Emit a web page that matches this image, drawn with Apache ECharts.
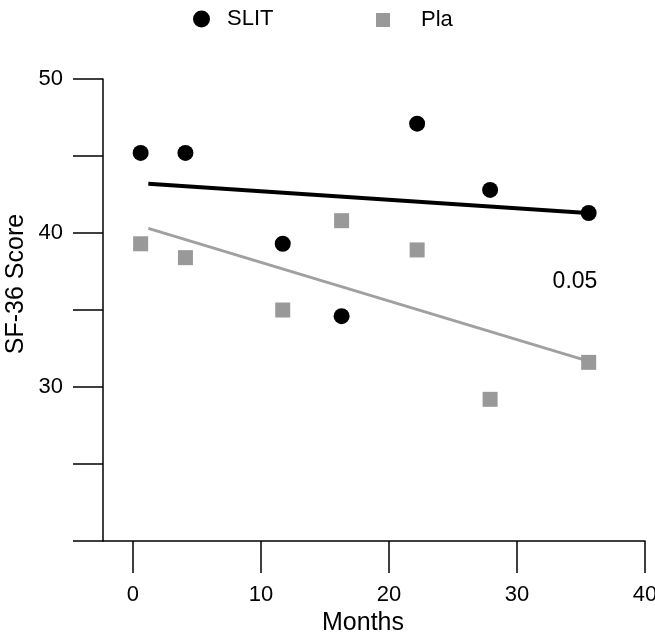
<!DOCTYPE html>
<html>
<head>
<meta charset="utf-8">
<script src="https://cdn.jsdelivr.net/npm/echarts@6/dist/echarts.min.js"></script>
<style>
    html, body {margin: 0; padding: 0; background: #fff;}
    #chart {width: 655px; height: 633px;}
</style>
</head>
<body>
<div id="chart"></div>
<script>
// months of each visit (same for both groups)
var months = [0.6, 4.1, 11.7, 16.3, 22.2, 27.9, 35.6];
// SF-36 score per visit
var slitScore = [45.2, 45.2, 39.3, 34.6, 47.1, 42.8, 41.3];
var plaScore = [39.3, 38.4, 35.0, 40.8, 38.9, 29.2, 31.6];
// fitted trend lines, start and end
var fitMonths = [1.2, 35.5];
var slitFit = [43.2, 41.3];
var plaFit = [40.3, 31.7];
// axis ticks / labels
var xTicks = [0, 10, 20, 30, 40];
var yTicks = [20, 25, 30, 35, 40, 45, 50];
var yLabels = [30, 40, 50];

var FONT = '"Liberation Sans", Arial, Helvetica, sans-serif';
var GREY = '#999999';

function pairs(xs, ys) {
    var res = [];
    for (var i = 0; i < xs.length; i++) {
        res.push([xs[i], ys[i]]);
    }
    return res;
}

var myChart = echarts.init(document.getElementById('chart'));

var option = {
    backgroundColor: '#fff',
    animation: false,
    textStyle: {fontFamily: FONT},
    grid: {left: 103, right: 10, top: 79, bottom: 92, outerBoundsMode: 'none', containLabel: false},
    legend: [
        {
            data: ['SLIT'],
            left: 188, top: 3,
            itemWidth: 17, itemHeight: 17,
            textStyle: {fontSize: 22, color: '#000', fontFamily: FONT, padding: [0, 0, 0, 12]}
        },
        {
            data: ['Pla'],
            left: 371, top: 4,
            itemWidth: 14, itemHeight: 14,
            textStyle: {fontSize: 22, color: '#000', fontFamily: FONT, padding: [0, 0, 0, 26]}
        }
    ],
    xAxis: {
        type: 'value',
        min: -2.34, max: 40,
        name: 'Months',
        nameLocation: 'middle',
        nameGap: 67,
        nameTextStyle: {fontSize: 25, color: '#000', fontFamily: FONT, padding: [0, 22, 0, 0]},
        splitLine: {show: false},
        axisLine: {onZero: false, lineStyle: {color: '#000', width: 1.5}},
        axisTick: {customValues: xTicks, length: 32, lineStyle: {color: '#000', width: 1.5}},
        axisLabel: {customValues: xTicks, margin: 43, fontSize: 22, color: '#000', fontFamily: FONT}
    },
    yAxis: {
        type: 'value',
        min: 20, max: 50,
        splitLine: {show: false},
        axisLine: {show: true, onZero: false, lineStyle: {color: '#000', width: 1.5}},
        axisTick: {customValues: yTicks, length: 30, lineStyle: {color: '#000', width: 1.5}},
        axisLabel: {customValues: yLabels, margin: 40, fontSize: 22, color: '#000', fontFamily: FONT, padding: [8, 0, 0, 0]}
    },
    graphic: [
        { // y axis title
            type: 'text',
            x: 16, y: 284,
            rotation: Math.PI / 2,
            style: {text: 'SF-36 Score', fontSize: 25, fontFamily: FONT, fill: '#000', align: 'center', verticalAlign: 'middle'}
        },
        { // p value
            type: 'text',
            x: 575, y: 282,
            style: {text: '0.05', fontSize: 23, fontFamily: FONT, fill: '#000', align: 'center', verticalAlign: 'middle'}
        }
    ],
    series: [
        {
            name: 'SLIT fit',
            type: 'line',
            data: pairs(fitMonths, slitFit),
            symbol: 'none',
            lineStyle: {color: '#000', width: 4},
            z: 2
        },
        {
            name: 'Pla fit',
            type: 'line',
            data: pairs(fitMonths, plaFit),
            symbol: 'none',
            lineStyle: {color: '#a0a0a0', width: 3},
            z: 2
        },
        {
            name: 'SLIT',
            type: 'scatter',
            data: pairs(months, slitScore),
            symbol: 'circle',
            symbolSize: 16,
            itemStyle: {color: '#000', opacity: 1},
            z: 3
        },
        {
            name: 'Pla',
            type: 'scatter',
            data: pairs(months, plaScore),
            symbol: 'rect',
            symbolSize: 15,
            itemStyle: {color: GREY, opacity: 1},
            z: 3
        }
    ]
};

myChart.setOption(option);
</script>
</body>
</html>
